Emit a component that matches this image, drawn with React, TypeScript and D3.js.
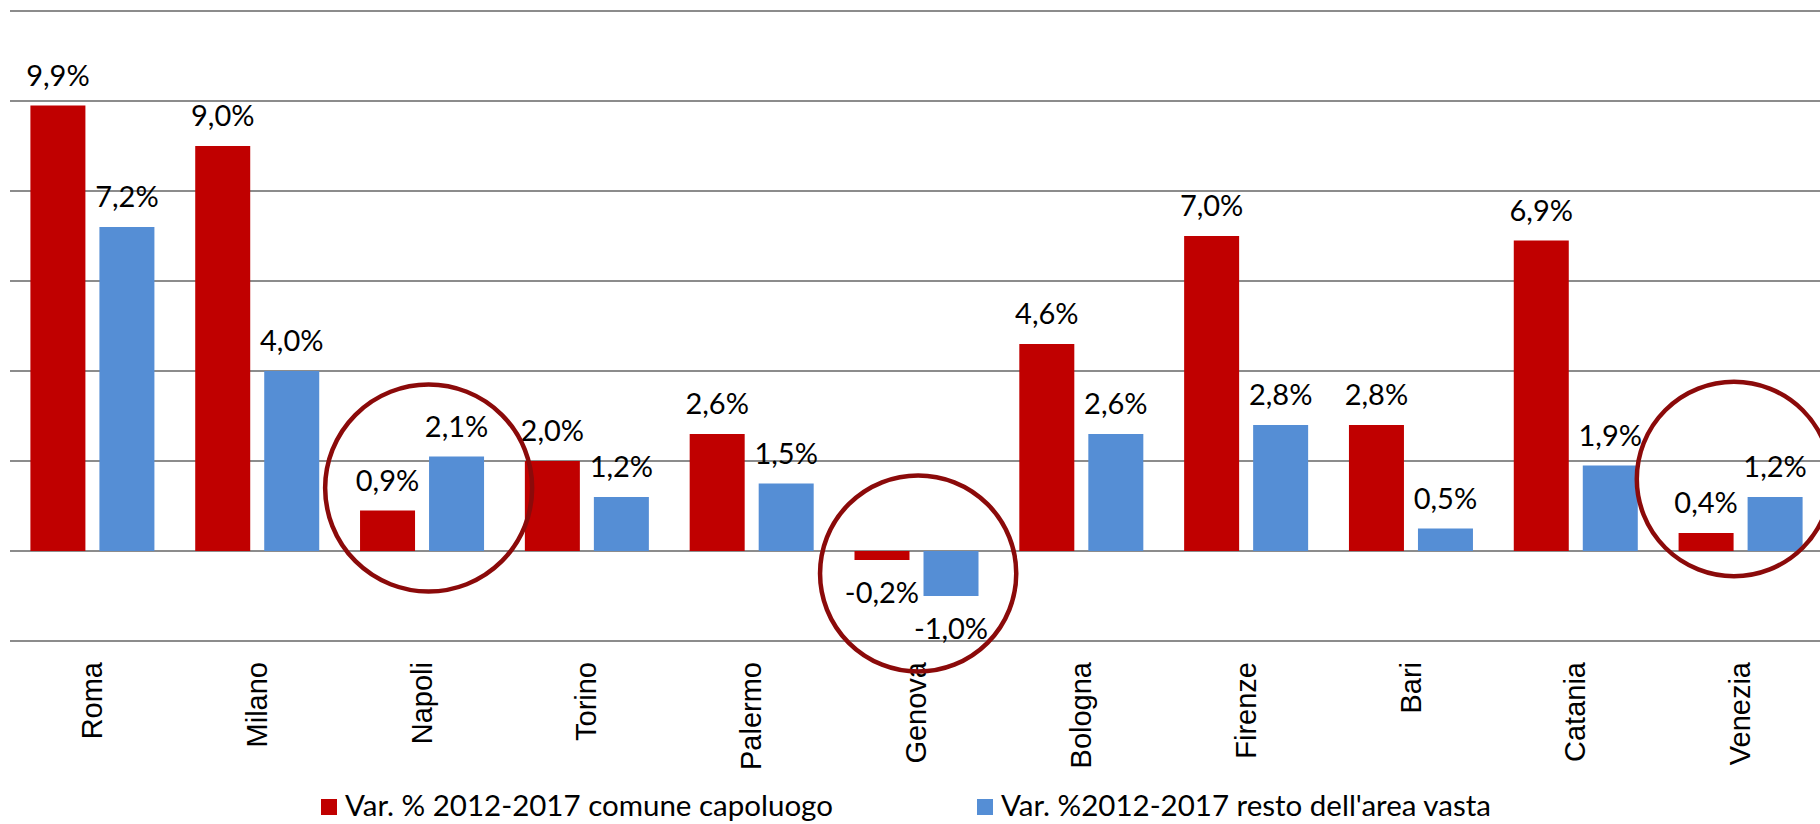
import { useMemo } from 'react'
import * as d3 from 'd3'

const cities = ['Roma', 'Milano', 'Napoli', 'Torino', 'Palermo', 'Genova', 'Bologna', 'Firenze', 'Bari', 'Catania', 'Venezia']
const capoluogo = [9.9, 9.0, 0.9, 2.0, 2.6, -0.2, 4.6, 7.0, 2.8, 6.9, 0.4]
const restoArea = [7.2, 4.0, 2.1, 1.2, 1.5, -1.0, 2.6, 2.8, 0.5, 1.9, 1.2]
const seriesNames = ['Var. % 2012-2017 comune capoluogo', "Var. %2012-2017 resto dell'area vasta"]
const yTicks = [-2, 0, 2, 4, 6, 8, 10, 12]

// hand-drawn circles on the original, in data units (centre value, radius in %)
const highlights = [
  { city: 'Napoli', cy: 1.4, r: 2.3, dx: 0.04 },
  { city: 'Genova', cy: -0.5, r: 2.18, dx: 0.01 },
  { city: 'Venezia', cy: 1.6, r: 2.16, dx: -0.04 },
]

const W = 1820
const H = 824
const margin = { top: 11, right: -3, bottom: 183, left: 10 }
const colors = ['#c00000', '#558ed5']
const fmt = (v: number) => `${v.toFixed(1).replace('.', ',')}%`

export default function App() {
  const { x0, x1, y } = useMemo(() => {
    const x0 = d3.scaleBand<string>()
      .domain(cities)
      .range([margin.left, W - margin.right])
      .paddingInner(0.2476)
      .paddingOuter(0.1238)
    const x1 = d3.scaleBand<number>()
      .domain([0, 1])
      .range([0, x0.bandwidth()])
      .paddingInner(0.203)
    const y = d3.scaleLinear()
      .domain([-2, 12])
      .range([H - margin.bottom, margin.top])
    return { x0, x1, y }
  }, [])

  const series = [capoluogo, restoArea]
  const step = x0.step()
  const pxPerUnit = y(0) - y(1)

  return (
    <div style={{ position: 'absolute', left: 0, top: 0 }}>
      <svg width={W} height={H} style={{ display: 'block', background: '#fff' }}>
        {/* gridlines */}
        <g className="grid">
          {yTicks.map(t => (
            <line key={t} x1={margin.left} x2={W - margin.right} y1={y(t)} y2={y(t)}
              stroke="#8c8c8c" strokeWidth={2} />
          ))}
        </g>

        {/* bars */}
        {series.map((vals, si) => (
          <g key={si} className={`series-${si}`}>
            {vals.map((v, i) => {
              const bx = (x0(cities[i]) ?? 0) + (x1(si) ?? 0)
              return (
                <rect key={i} x={bx} width={x1.bandwidth()}
                  y={Math.min(y(v), y(0))} height={Math.abs(y(v) - y(0))}
                  fill={colors[si]} />
              )
            })}
          </g>
        ))}

        {/* data labels */}
        <g className="labels" fontFamily="Lato, 'Open Sans', sans-serif" fontSize={29} fill="#000">
          {series.map((vals, si) => vals.map((v, i) => {
            const cx = (x0(cities[i]) ?? 0) + (x1(si) ?? 0) + x1.bandwidth() / 2
            const ly = v >= 0 ? y(v) - 20 : y(v) + 43
            return (
              <text key={`${si}-${i}`} x={cx} y={ly} textAnchor="middle">{fmt(v)}</text>
            )
          }))}
        </g>

        {/* category labels */}
        <g className="x-axis" fontFamily="'Liberation Sans', Arial, sans-serif" fontSize={29} fill="#000">
          {cities.map(c => {
            const cx = (x0(c) ?? 0) + x0.bandwidth() / 2
            const ty = y(-2) + 21
            return (
              <text key={c} transform={`translate(${cx},${ty}) rotate(-90)`} textAnchor="end" dy="0.33em">{c}</text>
            )
          })}
        </g>

        {/* highlight circles */}
        <g className="highlights" fill="none" stroke="#8b0a0a" strokeWidth={4.5}>
          {highlights.map(h => (
            <circle key={h.city}
              cx={(x0(h.city) ?? 0) + x0.bandwidth() / 2 + h.dx * step}
              cy={y(h.cy)} r={h.r * pxPerUnit} />
          ))}
        </g>

        {/* legend */}
        <g className="legend" fontFamily="Lato, 'Open Sans', sans-serif" fontSize={29.5} fill="#000">
          {seriesNames.map((name, si) => {
            const lx = si === 0 ? 321 : 977
            return (
              <g key={name} transform={`translate(${lx},799)`}>
                <rect width={16} height={16} fill={colors[si]} />
                <text x={24} y={17}>{name}</text>
              </g>
            )
          })}
        </g>
      </svg>
    </div>
  )
}
